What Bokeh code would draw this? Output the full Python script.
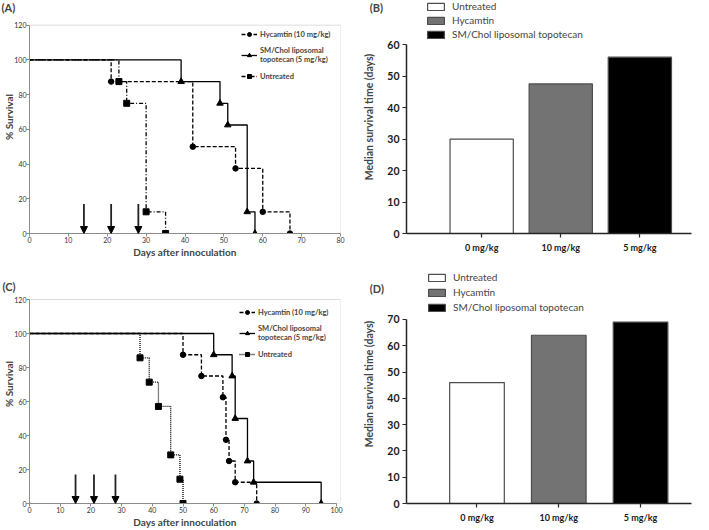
from bokeh.plotting import figure
from bokeh.layouts import column, row
from bokeh.models import (Range1d, Legend, LegendItem, Label, Arrow, NormalHead,
                          FixedTicker, ColumnDataSource, BoxAnnotation)
from bokeh.embed import file_html
from bokeh.resources import INLINE

# ---------------- data ----------------
# Panel A (Kaplan-Meier): event days and survival (%)
a_hyc_t = [21, 42, 53, 60, 67]
a_hyc_s = [87.5, 50, 37.5, 12.5, 0]
a_lip_t = [39, 49, 51, 56, 58]
a_lip_s = [87.5, 75, 62.5, 12.5, 0]
a_unt_t = [23, 25, 30, 35]
a_unt_s = [87.5, 75, 12.5, 0]
a_doses = [14, 21, 28]

# Panel C (Kaplan-Meier)
c_hyc_t = [50, 56, 63, 64, 65, 67, 74]
c_hyc_s = [87.5, 75, 62.5, 37.5, 25, 12.5, 0]
c_lip_t = [60, 66, 67, 71, 73, 95]
c_lip_s = [87.5, 75, 50, 25, 12.5, 0]
c_unt_t = [36, 39, 42, 46, 49, 50]
c_unt_s = [85.7, 71.4, 57.1, 28.6, 14.3, 0]
c_doses = [15, 21, 28]

km_labels = ["Hycamtin (10 mg/kg)", "SM/Chol liposomal\ntopotecan (5 mg/kg)", "Untreated"]

# Panels B and D (median survival, days)
groups = ["Untreated", "Hycamtin", "SM/Chol liposomal topotecan"]
dose_labels = ["0 mg/kg", "10 mg/kg", "5 mg/kg"]
b_median = [30, 47.5, 56]
d_median = [46, 64, 69]
bar_colors = ["white", "#737373", "black"]

FONT = "Lato"
GRAY = "#8c8c8c"


def tag_label(p, tag, x, y):
    # kept in the right side panel so that it is not clipped to the plot frame
    p.add_layout(Label(x=x, y=y, text=tag, text_font=FONT, text_font_style="bold",
                       text_font_size="11px", text_baseline="middle"), "right")


def km_panel(tag, xmax, xend, ytop, hyc, lip, unt, doses, unt_dash, width, height,
             borders, leg_xy, tag_xy):
    bl, br, bt, bb = borders
    p = figure(width=width, height=height, output_backend="svg", toolbar_location=None,
               x_range=Range1d(0, xend), y_range=Range1d(0, ytop),
               min_border_left=bl, min_border_right=br, min_border_top=bt,
               min_border_bottom=bb)
    p.grid.visible = False
    p.outline_line_color = None
    p.xaxis.ticker = FixedTicker(ticks=list(range(0, xmax + 1, 10)))
    p.xaxis.bounds = (0, xmax)
    p.yaxis.ticker = FixedTicker(ticks=list(range(0, 121, 20)))
    p.yaxis.bounds = (0, 120)
    for ax in (p.xaxis[0], p.yaxis[0]):
        ax.axis_line_color = GRAY
        ax.major_tick_line_color = GRAY
        ax.minor_tick_line_color = None
        ax.major_tick_out = 3
        ax.major_tick_in = 0
        ax.major_label_text_font = FONT
        ax.major_label_text_font_size = "7px"
        ax.major_label_text_color = "#333333"
        ax.major_label_standoff = 0
        ax.axis_label_text_font = FONT
        ax.axis_label_text_font_style = "bold"
        ax.axis_label_text_font_size = "10px"
    p.yaxis.axis_label_standoff = -4
    p.xaxis.axis_label_standoff = 0
    p.xaxis.axis_label = "Days after innoculation"
    p.yaxis.axis_label = "% Survival"
    # plot box of the survival chart
    p.add_layout(BoxAnnotation(bottom=0, top=120, fill_alpha=0, line_color=GRAY,
                               line_width=1))

    specs = [(hyc, "4 2", "circle", 5.5), (lip, "solid", "triangle", 6.5),
             (unt, unt_dash, "square", 6)]
    rends = [None, None, None]
    for i in (2, 0, 1):  # solid curve drawn last
        (t, s), dash, marker, size = specs[i]
        ln = p.step(x=[0] + t, y=[100] + s, mode="after", line_color="black",
                    line_width=1.3, line_dash=dash)
        pts = p.scatter(x=t, y=s, marker=marker, size=size, fill_color="black",
                        line_color="black")
        rends[i] = (ln, pts)
    items = [LegendItem(label=lab, renderers=[ln, pts])
             for (ln, pts), lab in zip(rends, km_labels)]

    src = ColumnDataSource(dict(x=doses, y0=[17] * len(doses), y1=[0] * len(doses)))
    p.add_layout(Arrow(end=NormalHead(size=7, fill_color="black", line_color="black"),
                       x_start="x", y_start="y0", x_end="x", y_end="y1", source=src,
                       line_color="#222222", line_width=1.8))

    leg = Legend(items=items, location=leg_xy, padding=0, margin=0,
                 background_fill_alpha=0, border_line_color=None,
                 label_text_font=FONT, label_text_font_style="bold",
                 label_text_font_size="7.5px", glyph_width=16, glyph_height=10,
                 label_height=10, label_standoff=3, spacing=7)
    p.add_layout(leg, "center")
    tag_label(p, tag, *tag_xy)
    return p


def bar_panel(tag, values, ymax, ytop, xr, bar_w, width, height, borders, leg_xy,
              leg_spacing, tag_xy):
    bl, br, bt, bb = borders
    xs = list(range(1, len(values) + 1))
    p = figure(width=width, height=height, output_backend="svg", toolbar_location=None,
               x_range=Range1d(*xr), y_range=Range1d(0, ytop),
               min_border_left=bl, min_border_right=br, min_border_top=bt,
               min_border_bottom=bb)
    p.grid.visible = False
    p.outline_line_color = None
    src = ColumnDataSource(dict(x=xs, top=values, color=bar_colors, group=groups))
    r = p.vbar(x="x", top="top", width=bar_w, fill_color="color", line_color="#4d4d4d",
               line_width=1.2, source=src)
    p.xaxis.ticker = FixedTicker(ticks=xs)
    p.xaxis.major_label_overrides = {x: lab for x, lab in zip(xs, dose_labels)}
    p.yaxis.ticker = FixedTicker(ticks=list(range(0, ymax + 1, 10)))
    p.yaxis.bounds = (0, ymax)
    for ax in (p.xaxis[0], p.yaxis[0]):
        ax.axis_line_color = "#262626"
        ax.axis_line_width = 1.5
        ax.major_tick_line_color = "#262626"
        ax.major_tick_line_width = 1.2
        ax.minor_tick_line_color = None
        ax.major_tick_out = 4
        ax.major_tick_in = 0
        ax.major_label_text_font = FONT
        ax.major_label_text_font_style = "bold"
        ax.major_label_text_color = "#1a1a1a"
    p.yaxis.major_label_text_font_size = "10.5px"
    p.xaxis.major_label_text_font_size = "9px"
    p.yaxis.major_label_standoff = 3
    p.xaxis.major_label_standoff = 4
    p.yaxis.axis_label = "Median survival time (days)"
    p.yaxis.axis_label_text_font = FONT
    p.yaxis.axis_label_text_font_style = "bold"
    p.yaxis.axis_label_text_font_size = "10.5px"
    p.yaxis.axis_label_standoff = 9

    items = [LegendItem(label=g, renderers=[r], index=i) for i, g in enumerate(groups)]
    leg = Legend(items=items, location=leg_xy, padding=0, margin=0,
                 background_fill_alpha=0, border_line_color=None,
                 label_text_font=FONT, label_text_font_size="10px",
                 glyph_width=21, glyph_height=9, label_height=11, label_standoff=6,
                 spacing=leg_spacing)
    p.add_layout(leg, "center")
    tag_label(p, tag, *tag_xy)
    return p


# tag positions are given in each panel's data units
pA = km_panel("(A)", 80, 80, 134.2, (a_hyc_t, a_hyc_s), (a_lip_t, a_lip_s),
              (a_unt_t, a_unt_s), a_doses, "4 2 1 2", 360, 264, (29, 20, 0, 31),
              (212, 152), (-7.2, 130.2))
pB = bar_panel("(B)", b_median, 60, 74.0, (0.0496, 3.653), 0.80, 349, 264,
               (44, 18, 0, 31), (19, 193), 2, (-0.415, 71.75))
pC = km_panel("(C)", 100, 101.3, 140.6, (c_hyc_t, c_hyc_s), (c_lip_t, c_lip_s),
              (c_unt_t, c_unt_s), c_doses, "1 1", 360, 266, (29, 20, 0, 27),
              (210, 144), (-8.8, 127.6))
pD = bar_panel("(D)", d_median, 70, 90.9, (0.138, 3.623), 0.668, 349, 266,
               (44, 18, 0, 27), (20, 190), 3, (-0.311, 81.8))

layout = column(row(pA, pB), row(pC, pD))
open("out.html", "w").write(file_html(layout, INLINE))
